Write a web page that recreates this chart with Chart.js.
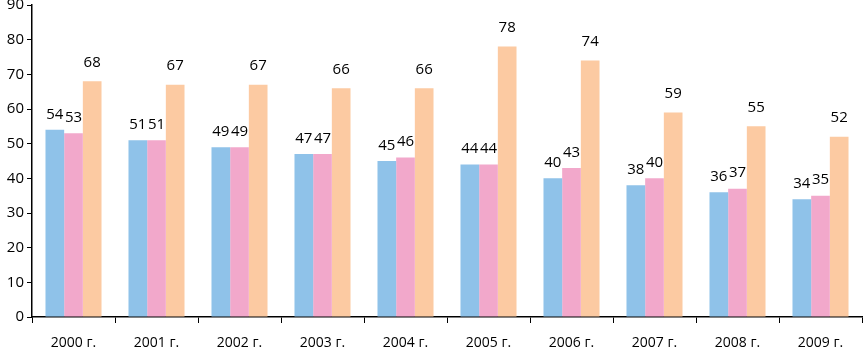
<!DOCTYPE html>
<html>
<head>
<meta charset="utf-8">
<script src="https://cdn.jsdelivr.net/npm/chart.js@4"></script>
<style>
  html, body { margin: 0; padding: 0; background: #fff; }
  #wrap { width: 863px; height: 349px; }
</style>
</head>
<body>
<div id="wrap"><canvas id="c"></canvas></div>
<script>
const categories = ["2000 г.", "2001 г.", "2002 г.", "2003 г.", "2004 г.", "2005 г.", "2006 г.", "2007 г.", "2008 г.", "2009 г."];
const seriesBlue = [54, 51, 49, 47, 45, 44, 40, 38, 36, 34];
const seriesPink = [53, 51, 49, 47, 46, 44, 43, 40, 37, 35];
const seriesPeach = [68, 67, 67, 66, 66, 78, 74, 59, 55, 52];

const FONT = "'Open Sans', 'DejaVu Sans', sans-serif";

// подписи значений над столбцами
const valueLabels = {
  id: "valueLabels",
  afterDatasetsDraw(chart) {
    const ctx = chart.ctx;
    ctx.save();
    ctx.font = "15px " + FONT;
    ctx.fillStyle = "#000";
    ctx.textAlign = "center";
    ctx.textBaseline = "bottom";
    chart.data.datasets.forEach((ds, i) => {
      const meta = chart.getDatasetMeta(i);
      const gap = i === 2 ? 11 : 8;
      meta.data.forEach((bar, j) => {
        ctx.fillText(ds.data[j], bar.x, bar.y - gap);
      });
    });
    ctx.restore();
  },
};

new Chart(document.getElementById("c"), {
  type: "bar",
  data: {
    labels: categories,
    datasets: [
      { data: seriesBlue, backgroundColor: "#8fc2e9" },
      { data: seriesPink, backgroundColor: "#f2a8cb" },
      { data: seriesPeach, backgroundColor: "#fccaa2" },
    ],
  },
  options: {
    responsive: true,
    maintainAspectRatio: false,
    animation: false,
    layout: { padding: { top: 5, right: 1, left: 0, bottom: 0 } },
    datasets: { bar: { categoryPercentage: 0.675, barPercentage: 1 } },
    plugins: { legend: { display: false }, tooltip: { enabled: false } },
    scales: {
      x: {
        grid: { display: true, drawOnChartArea: false, drawTicks: true, tickLength: 6, color: "#000", offset: true },
        border: { color: "#000", width: 1.5 },
        ticks: { color: "#000", font: { family: FONT, size: 14 }, padding: 12, maxRotation: 0 },
        afterFit(scale) { scale.height = 32; },
      },
      y: {
        min: 0,
        max: 90,
        ticks: { stepSize: 10, color: "#000", font: { family: FONT, size: 15 }, padding: 3 },
        grid: { display: true, drawOnChartArea: false, drawTicks: true, tickLength: 5, color: "#000" },
        border: { color: "#000", width: 1.5 },
        afterFit(scale) {
          scale.width = 32;
          scale.paddingTop = 0;
          scale.paddingBottom = 0;
        },
      },
    },
  },
  plugins: [valueLabels],
});
</script>
</body>
</html>
